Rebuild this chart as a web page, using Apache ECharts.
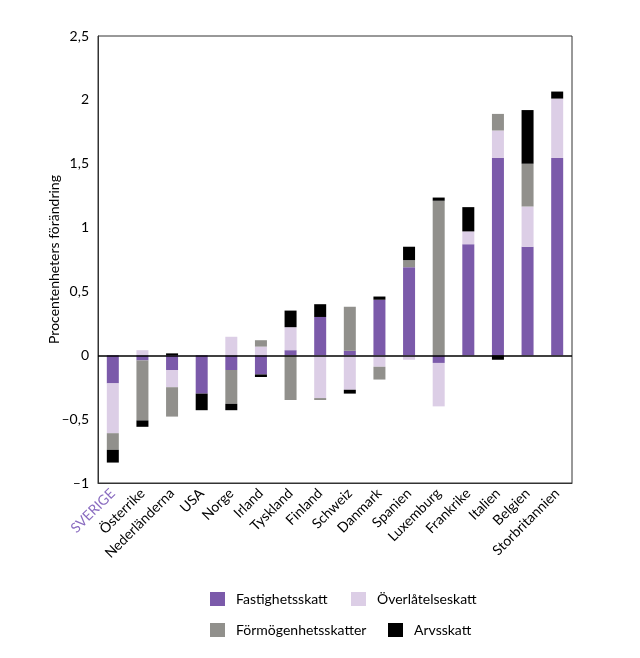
<!DOCTYPE html>
<html>
<head>
<meta charset="utf-8">
<script src="https://cdn.jsdelivr.net/npm/echarts@6/dist/echarts.min.js"></script>
<style>
html,body{margin:0;padding:0;background:#fff;}
#chart{width:640px;height:658px;}
</style>
</head>
<body>
<div id="chart"></div>
<script>
var categories = ['SVERIGE','Österrike','Nederländerna','USA','Norge','Irland','Tyskland','Finland','Schweiz','Danmark','Spanien','Luxemburg','Frankrike','Italien','Belgien','Storbritannien'];
var fastighetsskatt = [-0.22, -0.04, -0.115, -0.30, -0.115, -0.15, 0.04, 0.30, 0.035, 0.435, 0.69, -0.06, 0.87, 1.545, 0.85, 1.545];
var overlatelseskatt = [-0.39, 0.04, -0.135, 0, 0.145, 0.068, 0.18, -0.335, -0.27, -0.09, -0.035, -0.34, 0.10, 0.215, 0.315, 0.465];
var formogenhetsskatter = [-0.13, -0.47, -0.23, 0, -0.265, 0.05, -0.35, -0.015, 0.345, -0.10, 0.055, 1.21, 0, 0.13, 0.335, 0];
var arvsskatt = [-0.10, -0.05, 0.015, -0.13, -0.05, -0.02, 0.13, 0.10, -0.03, 0.025, 0.105, 0.025, 0.19, -0.035, 0.42, 0.055];
var seriesNames = ['Fastighetsskatt','Överlåtelseskatt','Förmögenhetsskatter','Arvsskatt'];
var colors = ['#7B5AAA','#DCCEE6','#91908C','#000000'];

var FONT = 'Lato';
var chart = echarts.init(document.getElementById('chart'));

function mkSeries(name, data, color, idx) {
  var s = {
    name: name, type: 'bar', stack: 'total', data: data, barWidth: 12,
    itemStyle: { color: color }, animation: false
  };
  if (idx === 0) {
    s.markLine = {
      silent: true, symbol: ['none','none'], label: { show: false },
      lineStyle: { color: '#000', width: 1.5, type: 'solid' },
      data: [{ yAxis: 0 }], animation: false
    };
  }
  return s;
}

function mkLegend(name, left, top) {
  return {
    data: [name], left: left, top: top, itemWidth: 15, itemHeight: 14,
    icon: 'rect', selectedMode: false,
    textStyle: { fontFamily: FONT, fontSize: 14, color: '#000', padding: [0,0,0,6] }
  };
}

chart.setOption({
  backgroundColor: '#fff',
  animation: false,
  textStyle: { fontFamily: FONT },
  grid: { left: 98, right: 68, top: 36, bottom: 175, show: true, borderColor: '#333', borderWidth: 1 },
  legend: [
    mkLegend(seriesNames[0], 205, 587),
    mkLegend(seriesNames[1], 346, 587),
    mkLegend(seriesNames[2], 205, 618),
    mkLegend(seriesNames[3], 383, 618)
  ],
  xAxis: {
    type: 'category', data: categories,
    axisLine: { onZero: false, lineStyle: { color: '#333' } },
    axisTick: { show: false },
    axisLabel: {
      rotate: 45, interval: 0, margin: 8, fontFamily: FONT, fontSize: 14,
      color: function (v) { return v === 'SVERIGE' ? '#8A6CC0' : '#000'; }
    }
  },
  yAxis: {
    type: 'value', min: -1, max: 2.5, interval: 0.5,
    name: 'Procentenheters förändring', nameLocation: 'middle', nameGap: 37,
    nameMoveOverlap: false,
    nameTextStyle: { fontFamily: FONT, fontSize: 14, color: '#000' },
    axisLine: { show: true, lineStyle: { color: '#333' } },
    axisTick: { show: false },
    splitLine: { show: false },
    axisLabel: {
      fontFamily: FONT, fontSize: 14, color: '#000', margin: 9,
      formatter: function (v) { return String(v).replace('.', ',').replace('-', '\u2013'); }
    }
  },
  series: [
    mkSeries(seriesNames[0], fastighetsskatt, colors[0], 0),
    mkSeries(seriesNames[1], overlatelseskatt, colors[1], 1),
    mkSeries(seriesNames[2], formogenhetsskatter, colors[2], 2),
    mkSeries(seriesNames[3], arvsskatt, colors[3], 3)
  ]
});
</script>
</body>
</html>
